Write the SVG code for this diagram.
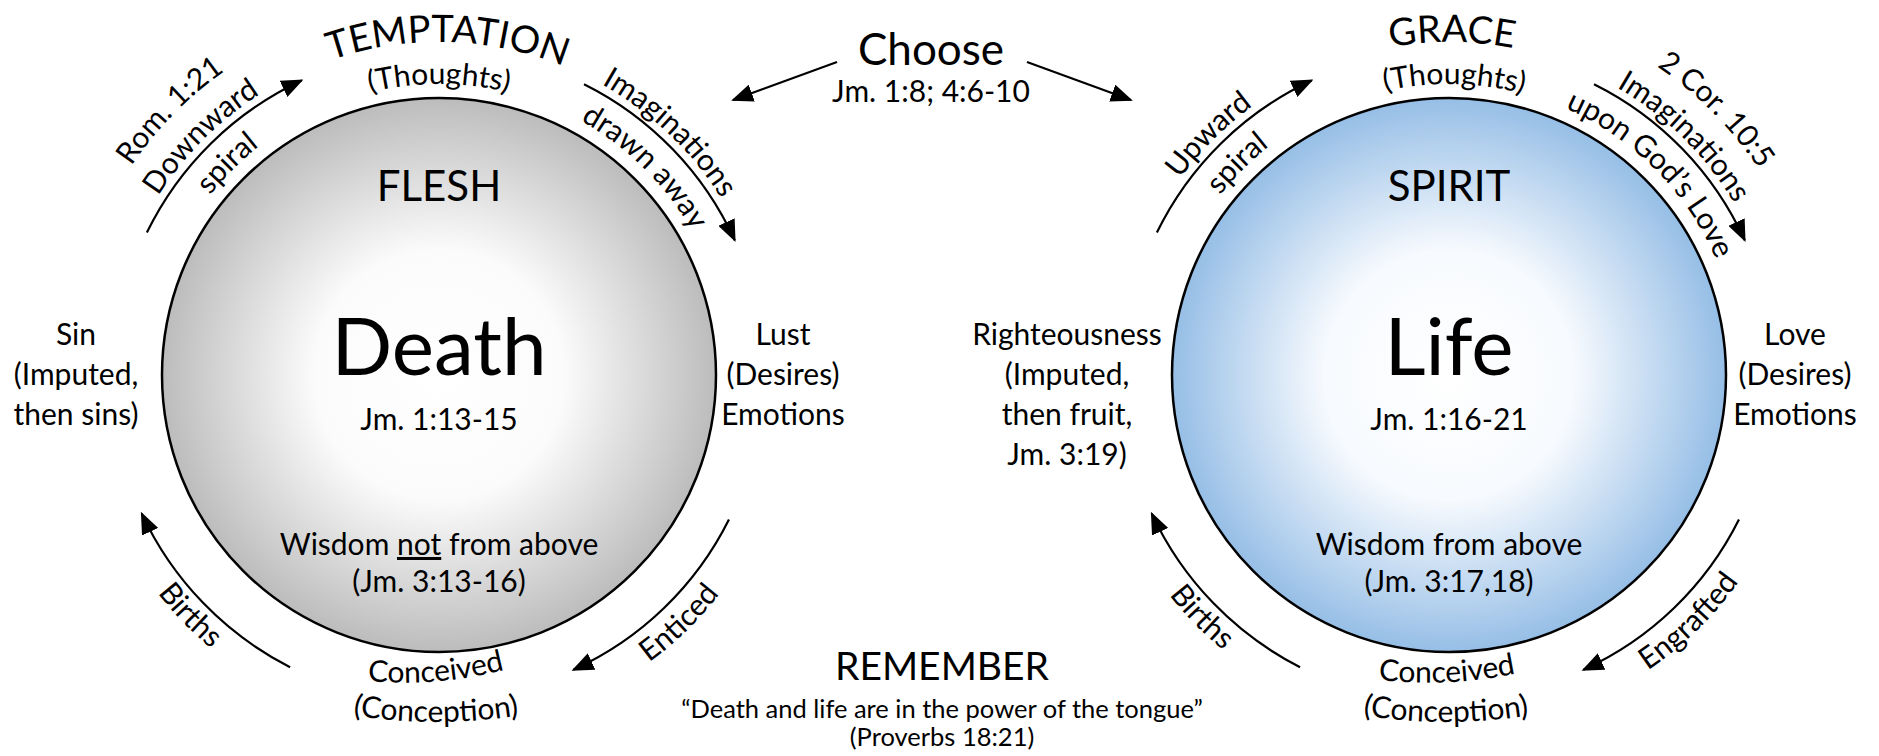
<svg xmlns="http://www.w3.org/2000/svg" width="1879" height="756" viewBox="0 0 1879 756">
<style>
text{font-family:Lato,"Liberation Sans",sans-serif;fill:#000}
.s{font-size:30px}
.q{font-size:25.5px}
.h{font-size:44px}
.h2{font-size:42px}
.arc{font-size:38px}
.rem{font-size:39px}
.xl{font-size:80px}
.c{text-anchor:middle}
.ln{fill:none;stroke:#000;stroke-width:2.2}
</style>
<defs>
<radialGradient id="gFlesh" cx="50%" cy="50%" r="50%">
<stop offset="0" stop-color="#ffffff"/>
<stop offset="0.45" stop-color="#fbfbfb"/>
<stop offset="1" stop-color="#bcbcbc"/>
</radialGradient>
<radialGradient id="gSpirit" cx="50%" cy="50%" r="50%">
<stop offset="0" stop-color="#ffffff"/>
<stop offset="0.45" stop-color="#f7fafe"/>
<stop offset="1" stop-color="#96bee6"/>
</radialGradient>
<marker id="ah" viewBox="0 0 22 18" refX="20" refY="9" markerWidth="22" markerHeight="18" markerUnits="userSpaceOnUse" orient="auto">
<path d="M0,0 L22,9 L0,18 z" fill="#000"/>
</marker>
<path id="arcA" d="M-239.12,-284.97 A372 372 0 0 1 239.12,-284.97"/>
<path id="arcB" d="M-214.05,-255.09 A333 333 0 0 1 214.05,-255.09"/>
<path id="arcC" d="M-187.05,-222.92 A291 291 0 0 1 187.05,-222.92"/>
<path id="arcD" d="M-228.83,272.71 A356 356 0 0 0 228.83,272.71"/>
<path id="concL" d="M-79,305 Q-4,314 73,293"/>
<path id="concR" d="M-79,304 Q-1,314 75,297"/>
<path id="conc2" d="M-99,338 Q-3,356 93,338"/>
</defs>

<g id="flesh" transform="translate(439,375)">
<circle r="277" fill="url(#gFlesh)" stroke="#000" stroke-width="2.5"/>
<text class="h2 c" y="-174">FLESH</text>
<text class="xl c" y="0">Death</text>
<text class="s c" y="55">Jm. 1:13-15</text>
<text class="s c" y="180">Wisdom <tspan text-decoration="underline">not</tspan> from above</text>
<text class="s c" y="217">(Jm. 3:13-16)</text>
</g>

<g id="flesh-labels" transform="translate(439,375)">
<text class="arc" transform="rotate(1.5)"><textPath href="#arcB" startOffset="50%" text-anchor="middle">TEMPTATION</textPath></text>
<text class="s"><textPath href="#arcC" startOffset="50%" text-anchor="middle">(Thoughts)</textPath></text>
<text class="s" transform="rotate(-45.5)"><textPath href="#arcA" startOffset="50%" text-anchor="middle">Rom. 1:21</textPath></text>
<text class="s" transform="rotate(-45)"><textPath href="#arcB" startOffset="50%" text-anchor="middle">Downward</textPath></text>
<text class="s" transform="rotate(-45)"><textPath href="#arcC" startOffset="50%" text-anchor="middle">spiral</textPath></text>
<text class="s" transform="rotate(43.6)"><textPath href="#arcB" startOffset="50%" text-anchor="middle">Imaginations</textPath></text>
<text class="s" transform="rotate(44.7)"><textPath href="#arcC" startOffset="50%" text-anchor="middle">drawn away</textPath></text>
<text class="s" transform="rotate(46)"><textPath href="#arcD" startOffset="50%" text-anchor="middle">Births</textPath></text>
<text class="s" transform="rotate(-44.1)"><textPath href="#arcD" startOffset="50%" text-anchor="middle">Enticed</textPath></text>
<text class="s"><textPath href="#concL" startOffset="50%" text-anchor="middle">Conceived</textPath></text>
<text class="s"><textPath href="#conc2" startOffset="50%" text-anchor="middle">(Conception)</textPath></text>
</g>

<g id="sin">
<text class="s c" x="76" y="345">Sin</text>
<text class="s c" x="76" y="385">(Imputed,</text>
<text class="s c" x="76" y="425">then sins)</text>
</g>
<g id="lust">
<text class="s c" x="783" y="345">Lust</text>
<text class="s c" x="783" y="385">(Desires)</text>
<text class="s c" x="783" y="425">Emotions</text>
</g>

<g id="spirit" transform="translate(1449,375)">
<circle r="277" fill="url(#gSpirit)" stroke="#000" stroke-width="2.5"/>
<text class="h2 c" y="-174">SPIRIT</text>
<text class="xl c" y="0">Life</text>
<text class="s c" y="55">Jm. 1:16-21</text>
<text class="s c" y="180">Wisdom from above</text>
<text class="s c" y="217">(Jm. 3:17,18)</text>
</g>

<g id="spirit-labels" transform="translate(1449,375)">
<text class="arc" transform="rotate(0.5)"><textPath href="#arcB" startOffset="50%" text-anchor="middle">GRACE</textPath></text>
<text class="s" transform="rotate(1)"><textPath href="#arcC" startOffset="50%" text-anchor="middle">(Thoughts)</textPath></text>
<text class="s" transform="rotate(-45)"><textPath href="#arcB" startOffset="50%" text-anchor="middle">Upward</textPath></text>
<text class="s" transform="rotate(-45)"><textPath href="#arcC" startOffset="50%" text-anchor="middle">spiral</textPath></text>
<text class="s" transform="rotate(45.2)"><textPath href="#arcA" startOffset="50%" text-anchor="middle">2 Cor. 10:5</textPath></text>
<text class="s" transform="rotate(44.6)"><textPath href="#arcB" startOffset="50%" text-anchor="middle">Imaginations</textPath></text>
<text class="s" transform="rotate(45.1)"><textPath href="#arcC" startOffset="50%" text-anchor="middle">upon God’s Love</textPath></text>
<text class="s" transform="rotate(45.6)"><textPath href="#arcD" startOffset="50%" text-anchor="middle">Births</textPath></text>
<text class="s" transform="rotate(-44.2)"><textPath href="#arcD" startOffset="50%" text-anchor="middle">Engrafted</textPath></text>
<text class="s"><textPath href="#concR" startOffset="50%" text-anchor="middle">Conceived</textPath></text>
<text class="s"><textPath href="#conc2" startOffset="50%" text-anchor="middle">(Conception)</textPath></text>
</g>

<g id="righteousness">
<text class="s c" x="1067" y="345">Righteousness</text>
<text class="s c" x="1067" y="385">(Imputed,</text>
<text class="s c" x="1067" y="425">then fruit,</text>
<text class="s c" x="1067" y="465">Jm. 3:19)</text>
</g>
<g id="love">
<text class="s c" x="1795" y="345">Love</text>
<text class="s c" x="1795" y="385">(Desires)</text>
<text class="s c" x="1795" y="425">Emotions</text>
</g>

<g id="choose">
<text class="h c" x="931" y="65">Choose</text>
<text class="s c" x="931" y="102">Jm. 1:8; 4:6-10</text>
</g>

<g id="remember">
<text class="rem c" x="942" y="680">REMEMBER</text>
<text class="q c" x="942" y="718">“Death and life are in the power of the tongue”</text>
<text class="q c" x="942" y="746">(Proverbs 18:21)</text>
</g>

<g id="connectors">
<path class="ln" marker-end="url(#ah)" d="M146.89,232.53 A325 325 0 0 1 301.65,80.45"/>
<path class="ln" marker-end="url(#ah)" d="M584.02,84.15 A325 325 0 0 1 734.74,240.23"/>
<path class="ln" marker-end="url(#ah)" d="M728.96,519.57 A324 324 0 0 1 573.36,669.83"/>
<path class="ln" marker-end="url(#ah)" d="M290.09,667.25 A328 328 0 0 1 141.73,513.62"/>
<path class="ln" marker-end="url(#ah)" d="M1156.89,232.53 A325 325 0 0 1 1311.65,80.45"/>
<path class="ln" marker-end="url(#ah)" d="M1594.02,84.15 A325 325 0 0 1 1744.74,240.23"/>
<path class="ln" marker-end="url(#ah)" d="M1738.96,519.57 A324 324 0 0 1 1583.36,669.83"/>
<path class="ln" marker-end="url(#ah)" d="M1300.09,667.25 A328 328 0 0 1 1151.73,513.62"/>
<path class="ln" marker-end="url(#ah)" d="M837,62 L733,100"/>
<path class="ln" marker-end="url(#ah)" d="M1027,62 L1131,100"/>
</g>
</svg>
